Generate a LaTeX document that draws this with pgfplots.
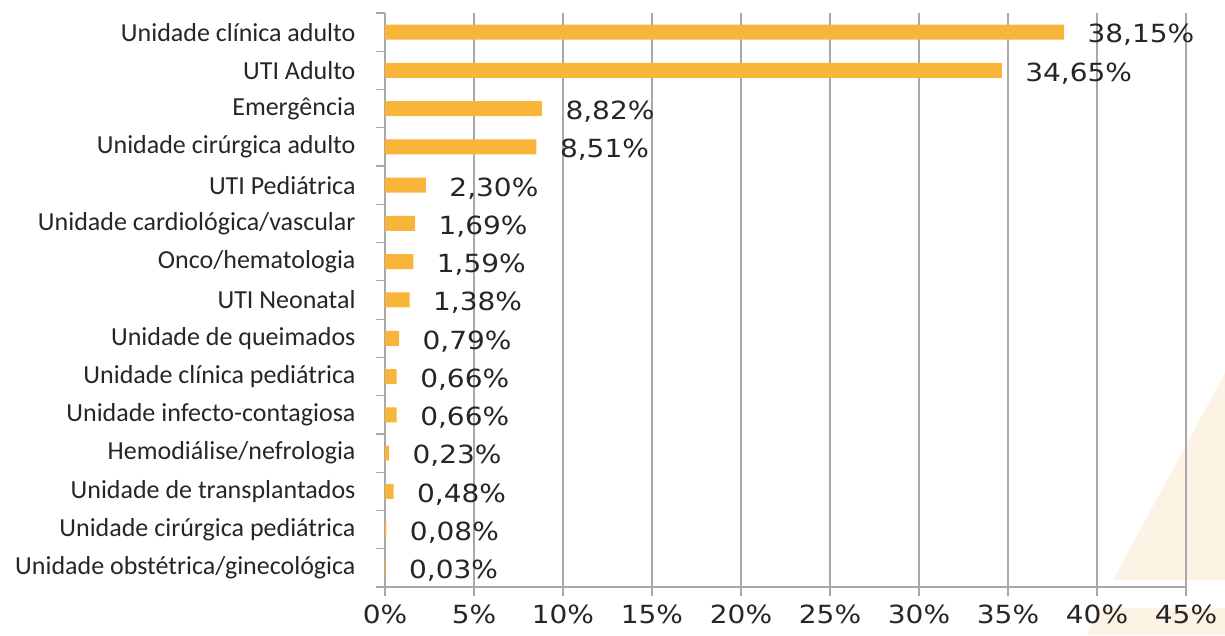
\documentclass[border=0pt]{standalone}
\usepackage{pgfplots}
\pgfplotsset{compat=1.18}
\usepackage{fontspec}
\setmainfont{Carlito}
\newfontfamily\dv[FakeStretch=1.12]{DejaVu Sans}

\definecolor{barorange}{HTML}{F9B43A}
\definecolor{gridgray}{HTML}{A8A8A8}
\definecolor{txt}{HTML}{262626}
\definecolor{cream}{HTML}{FCF3E4}

\begin{document}
\begin{tikzpicture}
\useasboundingbox (-385pt,-48pt) rectangle (840pt,587pt);
% faint decoration at the lower right
\fill[cream] (728pt,7pt) -- (840pt,214pt) -- (840pt,7pt) -- cycle;
\fill[cream] (702pt,-48pt) -- (715pt,-21pt) -- (840pt,-21pt) -- (840pt,-48pt) -- cycle;
\begin{axis}[
    at={(0,0)}, anchor=south west,
    scale only axis,
    width=801pt, height=574pt,
    xbar, bar width=15pt,
    xmin=0, xmax=45,
    ymin=-0.5, ymax=14.5,
    axis x line*=bottom,
    axis y line*=left,
    axis line style={gridgray, line width=1.2pt},
    /pgf/number format/assume math mode=true,
    xtick={0,5,...,45},
    xticklabels={0\%,5\%,10\%,15\%,20\%,25\%,30\%,35\%,40\%,45\%},
    xticklabel style={font=\dv\fontsize{25}{27}\selectfont, text=txt, yshift=-5pt},
    xmajorgrids,
    major grid style={gridgray, line width=1.3pt},
    tick align=outside,
    x tick style={gridgray, line width=1.2pt},
    major tick length=9pt,
    ytick={0,...,14},
    y tick style={draw=none},
    yticklabels={Unidade obstétrica/ginecológica,Unidade cirúrgica pediátrica,Unidade de transplantados,Hemodiálise/nefrologia,Unidade infecto-contagiosa,Unidade clínica pediátrica,Unidade de queimados,UTI Neonatal,Onco/hematologia,Unidade cardiológica/vascular,UTI Pediátrica,Unidade cirúrgica adulto,Emergência,UTI Adulto,Unidade clínica adulto},
    yticklabel style={font=\fontsize{26}{28}\selectfont, text=txt, xshift=-17pt},
    extra y ticks={-0.5,0.5,...,14.5},
    extra y tick labels={},
    extra y tick style={y tick style={draw=gridgray, line width=1.2pt}, major tick length=9pt},
    point meta=x,
    nodes near coords={\pgfmathprintnumber[fixed,fixed zerofill,precision=2,use comma,assume math mode=true]{\pgfplotspointmeta}\%},
    nodes near coords style={font=\dv\fontsize{25}{27}\selectfont, text=txt, anchor=west, xshift=20pt, yshift=-3pt},
    clip=false,
]
\addplot[fill=barorange, draw=none] coordinates {
    (38.15,14)
    (34.65,13)
    (8.82,12)
    (8.51,11)
    (2.30,10)
    (1.69,9)
    (1.59,8)
    (1.38,7)
    (0.79,6)
    (0.66,5)
    (0.66,4)
    (0.23,3)
    (0.48,2)
    (0.08,1)
    (0.03,0)
};
\end{axis}
\end{tikzpicture}
\end{document}
